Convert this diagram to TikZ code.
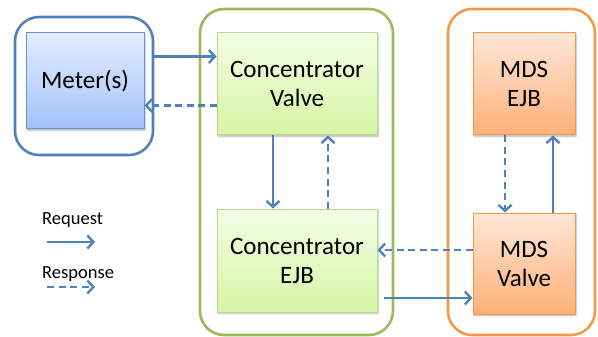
\documentclass[tikz,border=0pt]{standalone}
\usepackage{fontspec}
\setmainfont{Carlito}
\usetikzlibrary{arrows.meta,calc,shadows.blur}

\definecolor{linkblue}{HTML}{4F81BD}
\definecolor{grpgreen}{HTML}{9BBB59}
\definecolor{grporange}{HTML}{F79646}
\definecolor{meterline}{HTML}{6A93CF}
\definecolor{metertop}{HTML}{E2ECFD}
\definecolor{meterbot}{HTML}{A3C2F9}
\definecolor{concline}{HTML}{B7DB89}
\definecolor{conctop}{HTML}{F3FDE6}
\definecolor{concbot}{HTML}{D6F5A4}
\definecolor{mdstop}{HTML}{FFE7D8}
\definecolor{mdsbot}{HTML}{FDB078}

\tikzset{
  group/.style={draw, line width=2.6pt, rounded corners=24pt, inner sep=0pt},
  box/.style={draw, line width=1pt, inner sep=0pt, align=center,
    font=\fontsize{25}{29}\selectfont,
    blur shadow={shadow xshift=1.2pt, shadow yshift=-1.2pt, shadow blur steps=4, shadow opacity=30}},
  bluebox/.style={box, draw=meterline, top color=metertop, bottom color=meterbot},
  greenbox/.style={box, draw=concline, top color=conctop, bottom color=concbot},
  orangebox/.style={box, draw=grporange, top color=mdstop, bottom color=mdsbot},
  req/.style={draw=linkblue, line width=2.4pt, -{Straight Barb[length=6pt,width=13pt,line width=2.4pt]}},
  resp/.style={req, dash pattern=on 7pt off 4.5pt},
  legendtext/.style={inner sep=0pt, anchor=west, font=\fontsize{18.5}{22}\selectfont}
}

\begin{document}
\begin{tikzpicture}[x=1pt,y=-1pt]
  \useasboundingbox (0,0) rectangle (598,337);

  % grouping frames
  \node[group, draw=linkblue, minimum width=138pt, minimum height=138pt] (meterframe) at (84,86) {};
  \node[group, draw=grpgreen, minimum width=193pt, minimum height=326pt] (concframe) at (296.5,172) {};
  \node[group, draw=grporange, minimum width=147pt, minimum height=326pt] (mdsframe) at (521.5,172) {};

  % components
  \node[bluebox, minimum width=118pt, minimum height=96pt] (meter) at (85,81) {Meter(s)};
  \node[greenbox, minimum width=160pt, minimum height=102pt] (cv) at (297,84) {Concentrator\\Valve};
  \node[greenbox, minimum width=160pt, minimum height=103pt] (ce) at (297,260.5) {Concentrator\\EJB};
  \node[orangebox, minimum width=102pt, minimum height=102pt] (me) at (524,84) {MDS\\EJB};
  \node[orangebox, minimum width=102pt, minimum height=101pt] (mv) at (524,263.5) {MDS\\Valve};

  % meter <-> concentrator valve
  \coordinate (cvin) at ($(cv.north west)+(0,24)$);
  \draw[req] (meterframe.east |- cvin) -- (cvin);
  \coordinate (cvout) at ($(cv.north west)+(0,73)$);
  \draw[resp] (cvout) -- (meter.east |- cvout);

  % concentrator valve <-> concentrator EJB
  \coordinate (cvdown) at ($(cv.south)+(-24,0)$);
  \draw[req] (cvdown) -- (ce.north -| cvdown);
  \coordinate (ceup) at ($(ce.north)+(31,0)$);
  \draw[resp] (ceup) -- (cv.south -| ceup);

  % concentrator EJB <-> MDS valve
  \coordinate (mvback) at ($(mv.west)+(0,-13.5)$);
  \draw[resp] (mvback) -- (ce.east |- mvback);
  \coordinate (ceout) at ($(ce.east)+(6,37.5)$);
  \draw[req] (ceout) -- (mv.west |- ceout);

  % MDS valve <-> MDS EJB
  \coordinate (medown) at ($(me.south)+(-19,0)$);
  \draw[resp] (medown) -- (mv.north -| medown);
  \coordinate (mvup) at ($(mv.north)+(29,0)$);
  \draw[req] (mvup) -- (me.south -| mvup);

  % legend
  \node[legendtext] (reqlabel) at (42,220) {Request};
  \coordinate (reqa) at (47,242);
  \coordinate (reqb) at (95,242);
  \draw[req] (reqa) -- (reqb);
  \node[legendtext] (resplabel) at (42,274) {Response};
  \coordinate (respa) at (47,287);
  \coordinate (respb) at (95,287);
  \draw[resp] (respa) -- (respb);
\end{tikzpicture}
\end{document}
